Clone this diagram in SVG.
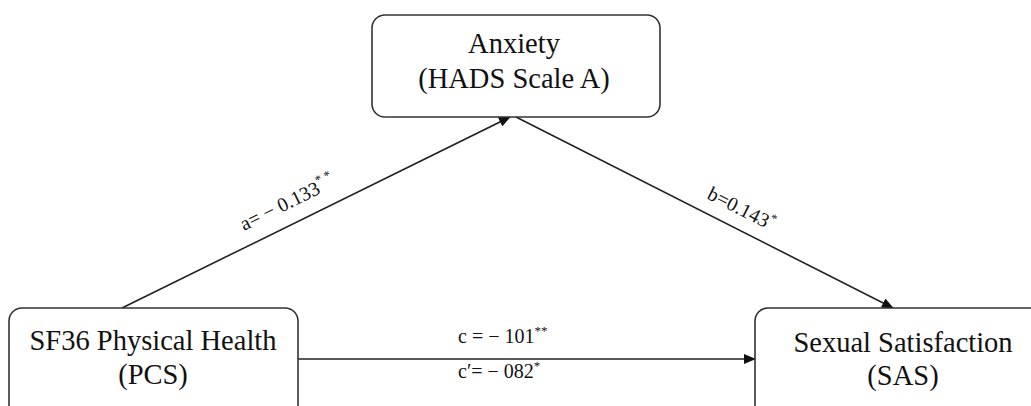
<svg xmlns="http://www.w3.org/2000/svg" width="1031" height="406" viewBox="0 0 1031 406">
<style>
.box{fill:#fff;stroke:#333;stroke-width:1.6}
.node{font-family:"Liberation Serif",serif;font-size:28.5px;fill:#111;text-anchor:middle}
.edge{stroke:#222;stroke-width:1.6;fill:none}
.lbl{font-family:"Liberation Serif",serif;font-size:20px;fill:#111}
</style>
<defs>
<marker id="arr" markerWidth="12" markerHeight="10" refX="11" refY="5" orient="auto" markerUnits="userSpaceOnUse">
<path d="M0,0 L12,5 L0,10 Z" fill="#111"/>
</marker>
</defs>
<rect width="1031" height="406" fill="#fff"/>
<g id="connectors">
<line class="edge" x1="122" y1="308" x2="510" y2="117" marker-end="url(#arr)"/>
<line class="edge" x1="516" y1="117" x2="893" y2="308" marker-end="url(#arr)"/>
<line class="edge" x1="298" y1="359" x2="755" y2="359" marker-end="url(#arr)"/>
<text class="lbl" font-size="22" transform="translate(244,231) rotate(-26.2)">a= − 0.133<tspan font-size="13" dy="-9">* *</tspan></text>
<text class="lbl" font-size="22" transform="translate(706,198) rotate(26.9)">b=<tspan font-size="20">0.143</tspan><tspan font-size="13" dy="-8">*</tspan></text>
<text class="lbl" x="458" y="343">c = − 101<tspan font-size="13" dy="-8">**</tspan></text>
<text class="lbl" x="458" y="378">c′= − 082<tspan font-size="13" dy="-8">*</tspan></text>
</g>
<g id="anxiety">
<rect class="box" x="372" y="15" width="288" height="102" rx="13"/>
<text class="node" x="514" y="53">Anxiety</text>
<text class="node" x="514" y="88">(HADS Scale A)</text>
</g>
<g id="sf36">
<rect class="box" x="9" y="308" width="289" height="110" rx="13"/>
<text class="node" x="153" y="350">SF36 Physical Health</text>
<text class="node" x="153" y="384">(PCS)</text>
</g>
<g id="sas">
<rect class="box" x="755" y="308" width="296" height="110" rx="13"/>
<text class="node" x="903" y="352">Sexual Satisfaction</text>
<text class="node" x="903" y="385">(SAS)</text>
</g>
</svg>
